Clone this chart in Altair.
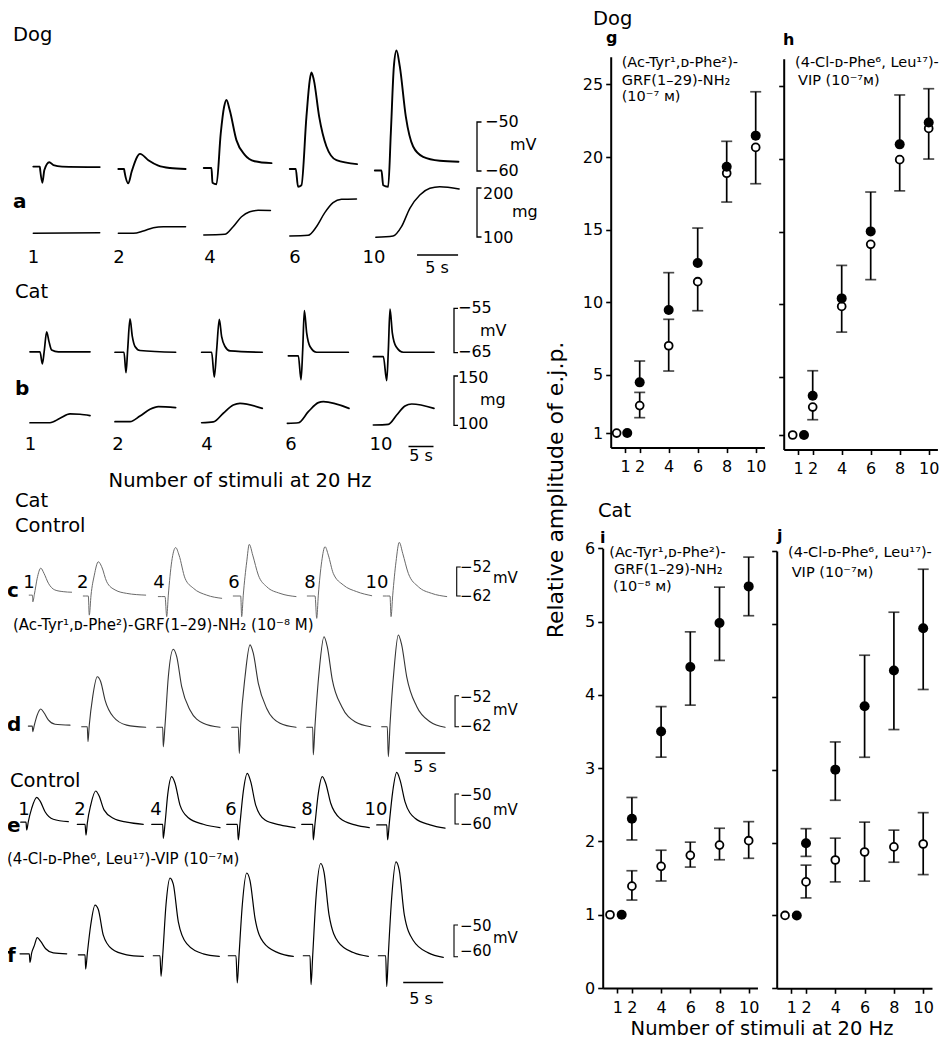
import altair as alt
import pandas as pd

FONT = "DejaVu Sans"
W, H, M = 933, 1034, 8

# ---------------- data: panels g-j (relative amplitude of e.j.p.) ----------------
STIM_TICKS = [1, 2, 4, 6, 8, 10]

G_OPEN_X = [0.41, 2, 4, 6, 8, 10]
G_OPEN = [1, 2.89, 7.01, 11.42, 18.88, 20.66]
G_OPEN_LO = [1, 2.06, 5.27, 9.42, 16.9, 18.16]
G_OPEN_HI = [1, 3.8, 8.83, 11.42, 18.88, 20.66]
G_FILL_X = [1.14, 2, 4, 6, 8, 10]
G_FILL = [1, 4.49, 9.47, 12.7, 19.33, 21.47]
G_FILL_LO = [1, 4.49, 9.47, 12.7, 19.33, 21.47]
G_FILL_HI = [1, 5.96, 12.04, 15.11, 21.08, 24.49]

H_OPEN_X = [0.62, 2, 4, 6, 8, 10]
H_OPEN = [1, 2.92, 9.85, 14.12, 19.95, 22.1]
H_OPEN_LO = [1, 2.05, 8.08, 11.69, 17.8, 19.99]
H_OPEN_HI = [1, 2.92, 9.85, 14.12, 19.95, 22.1]
H_FILL_X = [1.4, 2, 4, 6, 8, 10]
H_FILL = [1, 3.70, 10.4, 15.01, 21.0, 22.5]
H_FILL_LO = [1, 3.70, 10.4, 15.01, 21.0, 22.5]
H_FILL_HI = [1, 5.42, 12.67, 17.72, 24.4, 24.83]

I_OPEN_X = [0.5, 2, 4, 6, 8, 10]
I_OPEN = [1, 1.39, 1.66, 1.81, 1.95, 2.01]
I_OPEN_LO = [1, 1.20, 1.46, 1.65, 1.75, 1.77]
I_OPEN_HI = [1, 1.60, 1.88, 1.99, 2.18, 2.27]
I_FILL_X = [1.3, 2, 4, 6, 8, 10]
I_FILL = [1, 2.31, 3.50, 4.38, 4.98, 5.48]
I_FILL_LO = [1, 2.02, 3.15, 3.86, 4.47, 5.08]
I_FILL_HI = [1, 2.60, 3.84, 4.86, 5.47, 5.88]

J_OPEN_X = [0.57, 2, 4, 6, 8, 10]
J_OPEN = [1, 1.46, 1.76, 1.87, 1.94, 1.98]
J_OPEN_LO = [1, 1.24, 1.46, 1.47, 1.73, 1.56]
J_OPEN_HI = [1, 1.69, 2.06, 2.28, 2.17, 2.41]
J_FILL_X = [1.37, 2, 4, 6, 8, 10]
J_FILL = [1, 1.99, 3.0, 3.87, 4.36, 4.94]
J_FILL_LO = [1, 1.81, 2.58, 3.17, 3.55, 4.10]
J_FILL_HI = [1, 2.19, 3.38, 4.57, 5.16, 5.75]

# ---------------- data: traces (time s, membrane potential mV / tension mg) ----------------
# Dog (a): sweeps for 1, 2, 4, 6, 10 stimuli; onset of each sweep (s)
A_ONSET = [0, 10.37, 20.79, 31.28, 41.65]
A_MV_T = [
    [0, 0.8, 0.85, 1.1, 1.35, 1.95, 2.45, 3.5, 8.1],
    [0, 0.7, 0.75, 1.22, 1.63, 2.65, 3.66, 4.88, 6.3, 8.2],
    [0, 0.94, 1.06, 1.55, 2.07, 2.48, 2.76, 3.17, 3.98, 5.0, 6.2, 8.26],
    [0, 0.73, 1.0, 1.42, 2.03, 2.44, 2.64, 2.93, 3.58, 4.47, 5.69, 8.2],
    [0, 0.81, 1.02, 1.63, 1.95, 2.32, 2.64, 3.05, 3.78, 4.67, 5.89, 7.93, 10.2],
]
A_MV_V = [
    [-59.1, -59.1, -59.9, -62.4, -59.8, -58.2, -58.8, -59.1, -59.2],
    [-59.6, -59.6, -60.1, -62.5, -60.1, -56.5, -57.8, -58.9, -59.4, -59.6],
    [-59.4, -59.4, -62.4, -62.7, -52.3, -46.9, -45.5, -47.6, -53.7, -56.7, -58.0, -58.4],
    [-59.6, -59.6, -63.2, -62.9, -48.9, -41.4, -39.9, -41.4, -48.9, -55.0, -57.8, -58.6],
    [-59.9, -59.9, -62.9, -63.2, -52.3, -38.7, -35.4, -38.7, -48.9, -55.0, -57.1, -57.9, -58.1],
]
A_MG_ONSET = [0, 10.37, 20.79, 31.28, 41.77]
A_MG_T = [
    [0, 8.1],
    [0, 1.83, 3.05, 4.27, 5.49, 8.2],
    [0, 2.56, 3.58, 4.6, 5.61, 6.63, 8.13],
    [0, 2.24, 3.25, 4.27, 5.28, 6.3, 8.13],
    [0, 2.11, 3.13, 4.15, 5.37, 6.59, 7.8, 10.16],
]
A_MG_V = [
    [107.5, 108.5],
    [107.5, 107.5, 112.2, 119, 121, 121],
    [104, 105.4, 121, 141.4, 151.6, 154.4, 154],
    [102, 103.4, 121, 149.6, 170, 176.9, 177.6],
    [99.4, 102, 121, 158.6, 185.7, 199.4, 202.7, 198],
]

# Cat (b)
B_ONSET = [0, 17, 34.33, 51.67, 68.67]
B_MV_T = [
    [0, 2.0, 2.47, 2.87, 3.33, 3.8, 4.33, 5.67, 12.0],
    [0, 1.8, 2.2, 2.53, 3.0, 3.47, 4.0, 5.0, 12.13],
    [0, 2.0, 2.53, 3.0, 3.53, 4.0, 4.67, 5.67, 12.13],
    [0, 2.0, 2.53, 2.87, 3.2, 3.67, 4.33, 5.67, 12.0],
    [0, 2.0, 2.67, 3.0, 3.33, 3.8, 4.53, 6.0, 12.13],
]
B_MV_V = [
    [-64.8, -64.8, -67.5, -64.4, -60.3, -62.5, -64.4, -64.8, -64.8],
    [-64.9, -64.9, -69.5, -64.4, -57.4, -61.4, -63.6, -64.5, -64.9],
    [-64.9, -64.9, -70.5, -64.4, -57.5, -61.4, -63.6, -64.6, -64.9],
    [-65.7, -65.7, -71.1, -64.4, -55.5, -60.6, -63.6, -64.9, -64.9],
    [-65.9, -65.9, -71.3, -64.4, -55.2, -60.6, -63.6, -64.9, -64.9],
]
B_MG_ONSET = [0, 17, 34.33, 51.47, 68.67]
B_MG_T = [
    [0, 4, 6, 8, 10, 12],
    [0, 3, 5, 7, 8.67, 12.13],
    [0, 2.33, 4.33, 6.33, 7.67, 12.13],
    [0, 2.2, 4.2, 6.2, 7.2, 12.33],
    [0, 3, 4.67, 6.33, 7.67, 12.13],
]
B_MG_V = [
    [102.6, 102.6, 107.1, 111.5, 111.2, 109.8],
    [103.7, 103.7, 109.4, 116.2, 118.9, 117.9],
    [102.6, 103.4, 112.2, 120.6, 122.3, 117.2],
    [102, 102.6, 113.8, 123, 124, 117.2],
    [100.3, 101, 110.4, 119.6, 121.6, 117.2],
]

# Cat (c) control, (d) GRF antagonist; sweeps for 1, 2, 4, 6, 8, 10 stimuli
C_T = [
    [0.4, 0.8, 0.85, 1.05, 1.4, 1.85, 2.25, 2.8, 3.6, 4.65, 5.7],
    [7.16, 7.79, 7.91, 8.13, 8.54, 9.04, 9.46, 10.09, 11.13, 12.59, 14.96],
    [16.54, 17.38, 17.59, 17.79, 18.21, 18.71, 19.13, 19.88, 20.91, 22.59, 24.46],
    [25.91, 26.84, 26.96, 27.16, 27.59, 27.91, 28.34, 29.04, 30.09, 31.75, 33.75],
    [35.16, 36.13, 36.34, 36.54, 36.96, 37.38, 37.79, 38.41, 39.66, 41.34, 43.21],
    [44.66, 45.5, 45.63, 45.84, 46.25, 46.66, 47.09, 47.79, 49.04, 50.71, 52.59],
]
C_V = [
    [-61.7, -61.7, -64.0, -61.4, -55.9, -52.4, -54.2, -57.6, -59.9, -60.5, -60.7],
    [-62.0, -62.0, -68.6, -61.7, -54.8, -50.2, -51.9, -57.1, -59.9, -61.1, -61.7],
    [-62.2, -62.2, -69.1, -61.7, -50.2, -45.3, -47.9, -55.9, -59.3, -61.7, -62.8],
    [-62.0, -62.0, -69.1, -61.7, -50.2, -44.2, -47.9, -54.8, -58.8, -61.1, -62.2],
    [-62.0, -62.0, -69.7, -61.7, -50.2, -45.0, -47.9, -54.2, -58.2, -60.5, -61.9],
    [-62.0, -62.0, -69.1, -61.7, -50.2, -43.5, -47.3, -54.2, -58.8, -61.1, -62.2],
]
D_T = [
    [0.29, 0.79, 0.84, 1.04, 1.41, 1.84, 2.25, 2.79, 3.63, 5.5],
    [6.96, 7.66, 7.75, 7.91, 8.34, 8.91, 9.34, 9.88, 10.91, 12.59, 14.96],
    [16.34, 17.09, 17.16, 17.38, 17.79, 18.41, 18.84, 19.46, 20.5, 22.16, 24.25],
    [25.71, 26.54, 26.66, 26.84, 27.38, 28.0, 28.41, 29.04, 30.09, 31.75, 33.75],
    [35.09, 35.84, 35.91, 36.13, 36.66, 37.25, 37.66, 38.29, 39.46, 41.13, 43.09],
    [44.46, 45.16, 45.29, 45.5, 46.0, 46.54, 46.96, 47.59, 48.84, 50.5, 52.38],
]
D_V = [
    [-61.8, -61.8, -63.6, -61.5, -58.2, -56.3, -57.5, -59.8, -61.2, -61.5],
    [-62.0, -62.0, -66.8, -61.5, -52.3, -45.9, -47.5, -53.4, -58.8, -61.5, -62.2],
    [-62.2, -62.2, -68.5, -61.5, -45.9, -37.0, -39.4, -49.1, -56.6, -60.9, -62.2],
    [-62.2, -62.2, -70.6, -61.5, -45.9, -35.6, -38.3, -48.0, -56.1, -60.9, -62.2],
    [-62.2, -62.2, -71.1, -61.5, -43.7, -33.0, -36.2, -46.9, -55.5, -60.4, -62.0],
    [-62.0, -62.0, -71.7, -61.5, -43.7, -32.4, -35.6, -45.9, -55.5, -60.4, -62.2],
]
# Cat (e) control, (f) VIP antagonist
E_T = [
    [0.09, 0.75, 0.84, 1.04, 1.46, 2.09, 2.5, 3.13, 4.16, 6.04],
    [7.16, 8.13, 8.25, 8.41, 8.84, 9.46, 9.88, 10.5, 11.66, 13.34, 15.41],
    [16.46, 17.84, 17.91, 18.13, 18.46, 18.96, 19.38, 20.0, 21.04, 22.91, 25.0],
    [25.84, 27.16, 27.29, 27.5, 27.91, 28.41, 28.84, 29.46, 30.63, 32.5, 34.38],
    [35.21, 36.59, 36.66, 36.88, 37.29, 37.79, 38.21, 38.84, 40.0, 41.88, 43.66],
    [44.59, 45.84, 45.96, 46.16, 46.59, 47.09, 47.5, 48.13, 49.38, 51.25, 53.13],
]
E_V = [
    [-59.4, -59.4, -62.0, -59.2, -54.8, -51.1, -52.3, -55.9, -58.4, -59.2],
    [-60.1, -60.1, -63.7, -59.8, -53.7, -49.0, -50.6, -55.3, -58.1, -59.4, -60.1],
    [-60.1, -60.1, -64.8, -59.8, -50.3, -44.2, -46.4, -53.7, -57.9, -60.1, -61.2],
    [-60.1, -60.1, -65.3, -59.8, -49.2, -43.1, -45.9, -53.7, -58.7, -60.3, -61.2],
    [-60.1, -60.1, -65.3, -59.8, -49.8, -44.2, -46.4, -53.1, -58.1, -60.3, -61.2],
    [-60.3, -60.3, -65.3, -59.8, -49.2, -42.8, -45.3, -52.6, -58.1, -60.3, -61.4],
]
F_T = [
    [0, 1.16, 1.25, 1.46, 1.79, 2.16, 2.59, 3.21, 4.16, 5.84],
    [7.29, 8.13, 8.21, 8.41, 8.84, 9.38, 9.79, 10.41, 11.46, 13.34, 15.41],
    [16.66, 17.5, 17.63, 17.84, 18.25, 18.75, 19.16, 19.79, 20.84, 22.91, 24.91],
    [26.04, 27.0, 27.16, 27.38, 27.79, 28.34, 28.75, 29.38, 30.41, 32.29, 34.16],
    [35.41, 36.25, 36.38, 36.59, 37.0, 37.59, 38.0, 38.63, 39.79, 41.66, 43.54],
    [44.79, 45.71, 45.84, 46.04, 46.46, 47.0, 47.41, 48.04, 49.16, 51.04, 52.91],
]
F_V = [
    [-59.1, -59.1, -61.8, -58.8, -56.5, -54.0, -55.2, -57.5, -58.8, -59.1],
    [-59.4, -59.4, -63.9, -59.1, -50.0, -43.7, -45.1, -53.2, -57.5, -59.4, -59.9],
    [-59.7, -59.7, -66.2, -59.5, -43.6, -35.2, -37.1, -49.0, -55.9, -59.1, -59.9],
    [-59.7, -59.7, -68.3, -59.5, -43.6, -33.6, -36.0, -47.9, -55.4, -58.8, -59.9],
    [-59.7, -59.7, -68.8, -59.5, -41.4, -30.6, -33.3, -46.8, -55.4, -58.7, -59.9],
    [-59.7, -59.7, -69.4, -59.5, -41.4, -30.1, -32.8, -46.8, -54.9, -58.8, -60.2],
]

# calibration bars: (mV/mg low, high) and time bars (s)
A_MV_CAL = (-60, -50)
A_MG_CAL = (100, 200)
B_MV_CAL = (-65, -55)
B_MG_CAL = (100, 150)
C_CAL = (-62, -52)
D_CAL = (-62, -52)
E_CAL = (-60, -50)
F_CAL = (-60, -50)
TIME_BAR = 5

# ---------------- text content ----------------
GRF_1 = "(Ac-Tyr¹,ᴅ-Phe²)-"
GRF_2 = "GRF(1–29)-NH₂"
VIP_1 = "(4-Cl-ᴅ-Phe⁶, Leu¹⁷)-"
VIP_2 = "VIP (10⁻⁷ᴍ)"
XTITLE = "Number of stimuli at 20 Hz"
YTITLE = "Relative amplitude of e.j.p."


# ---------------- helpers (layout) ----------------
def S(d0, d1, p0, p1):
    return alt.Scale(domain=[d0, d1], range=[p0 - M, p1 - M], zero=False, nice=False)


def trace_row(ts, vs, xs, ys, color="black", width=1.5, onsets=None):
    recs = []
    for i, (t, v) in enumerate(zip(ts, vs)):
        off = onsets[i] if onsets else 0.0
        for a, b in zip(t, v):
            recs.append({"k": i, "t": a + off, "v": b})
    return alt.Chart(pd.DataFrame(recs)).mark_line(
        interpolate="monotone", color=color, strokeWidth=width,
        strokeJoin="round", strokeCap="round"
    ).encode(
        x=alt.X("t:Q", scale=xs, axis=None),
        y=alt.Y("v:Q", scale=ys, axis=None),
        detail="k:N",
    )


def bracket(tb, te, cal, xs, ys, width=1.3):
    lo, hi = cal
    df = pd.DataFrame({"t": [te, tb, tb, te], "v": [hi, hi, lo, lo], "o": [0, 1, 2, 3]})
    return alt.Chart(df).mark_line(color="black", strokeWidth=width).encode(
        x=alt.X("t:Q", scale=xs, axis=None),
        y=alt.Y("v:Q", scale=ys, axis=None),
        order=alt.Order("o:Q"),
    )


def timebar(t0, ypix, xs, width=1.5):
    df = pd.DataFrame({"t0": [t0], "t1": [t0 + TIME_BAR]})
    return alt.Chart(df).mark_rule(color="black", strokeWidth=width).encode(
        x=alt.X("t0:Q", scale=xs, axis=None), x2="t1:Q", y=alt.value(ypix - M)
    )


def text_layer(rows, size, weight="normal", align="left", baseline="alphabetic", angle=None):
    df = pd.DataFrame(rows, columns=["s", "x", "y"])
    df["x"] = df["x"] - M
    df["y"] = df["y"] - M
    kw = dict(font=FONT, fontSize=size, fontWeight=weight, align=align,
              baseline=baseline, color="black")
    if angle is not None:
        kw["angle"] = angle
    return alt.Chart(df).mark_text(**kw).encode(
        x=alt.X("x:Q", scale=None, axis=None),
        y=alt.Y("y:Q", scale=None, axis=None),
        text="s:N",
    )


def axis_common():
    return dict(grid=False, domainColor="black", domainWidth=2, tickColor="black",
                tickWidth=1.6, tickSize=5, labelFont=FONT, labelFontSize=16,
                labelColor="black", title=None, labelFlush=False, labelOverlap=False)


def panel(xs, ys, px0, py0, yvals, ylabels, ox, om, olo, ohi, fx, fm, flo, fhi):
    bars, caps = [], []
    for xl, m, lo, hi in ((ox, om, olo, ohi), (fx, fm, flo, fhi)):
        for x, mm, l, h in zip(xl, m, lo, hi):
            if h > l:
                bars.append({"x": x, "lo": l, "hi": h})
            if l < mm:
                caps.append({"x": x, "y": l})
            if h > mm:
                caps.append({"x": x, "y": h})
    xaxis = alt.Axis(orient="bottom", offset=(py0 - M) - H, values=STIM_TICKS,
                     format="d", labelPadding=6, **axis_common())
    yaxis = alt.Axis(orient="left", offset=-(px0 - M), values=yvals, format="d",
                     labels=ylabels, labelPadding=3, **axis_common())
    r = alt.Chart(pd.DataFrame(bars)).mark_rule(color="black", strokeWidth=1.7).encode(
        x=alt.X("x:Q", scale=xs, axis=None),
        y=alt.Y("lo:Q", scale=ys, axis=None), y2="hi:Q")
    c = alt.Chart(pd.DataFrame(caps)).mark_tick(
        orient="horizontal", color="black", size=11, thickness=1.7).encode(
        x=alt.X("x:Q", scale=xs, axis=None), y=alt.Y("y:Q", scale=ys, axis=None))
    po = alt.Chart(pd.DataFrame({"x": ox, "m": om})).mark_point(
        shape="circle", filled=True, fill="white", stroke="black", strokeWidth=1.8,
        size=62, opacity=1).encode(
        x=alt.X("x:Q", scale=xs, axis=xaxis), y=alt.Y("m:Q", scale=ys, axis=yaxis))
    pf = alt.Chart(pd.DataFrame({"x": fx, "m": fm})).mark_circle(
        color="black", size=100, opacity=1).encode(
        x=alt.X("x:Q", scale=xs, axis=None), y=alt.Y("m:Q", scale=ys, axis=None))
    return [r, c, po, pf]


layers = []

# ---------------- left: traces ----------------
AX = S(0, 56, 33.3, 33.3 + 56 * 8.2)
A_MV_Y = S(-65, -30, 171 + 5 * 4.9, 171 - 30 * 4.9)
A_MG_Y = S(90, 210, 237 + 10 * 0.49, 237 - 110 * 0.49)
BX = S(0, 90, 30, 480)
B_MV_Y = S(-75, -50, 352.7 + 10 * 4.44, 352.7 - 15 * 4.44)
B_MG_Y = S(95, 130, 425.3 + 5 * 0.986, 425.3 - 30 * 0.986)
CX = S(0, 56, 26, 26 + 56 * 8)
C_Y = S(-75, -40, 596 + 13 * 2.9, 596 - 22 * 2.9)
D_Y = S(-75, -30, 726.7 + 13 * 3.1, 726.7 - 32 * 3.1)
EX = S(0, 56, 20, 20 + 56 * 8)
E_Y = S(-70, -40, 824 + 10 * 3.0, 824 - 20 * 3.0)
F_Y = S(-72, -28, 956.7 + 12 * 3.17, 956.7 - 32 * 3.17)

layers += [
    trace_row(A_MV_T, A_MV_V, AX, A_MV_Y, width=1.9, onsets=A_ONSET),
    trace_row(A_MG_T, A_MG_V, AX, A_MG_Y, width=1.5, onsets=A_MG_ONSET),
    bracket(54.11, 54.66, A_MV_CAL, AX, A_MV_Y),
    bracket(54.11, 54.66, A_MG_CAL, AX, A_MG_Y),
    timebar(46.8, 255, AX),
    trace_row(B_MV_T, B_MV_V, BX, B_MV_Y, width=1.7, onsets=B_ONSET),
    trace_row(B_MG_T, B_MG_V, BX, B_MG_Y, width=1.7, onsets=B_MG_ONSET),
    bracket(84.8, 85.6, B_MV_CAL, BX, B_MV_Y),
    bracket(84.8, 85.6, B_MG_CAL, BX, B_MG_Y),
    timebar(75.7, 446.5, BX),
    trace_row(C_T, C_V, CX, C_Y, color="#6a6a6a", width=1.0),
    bracket(53.84, 54.34, C_CAL, CX, C_Y, width=1.1),
    trace_row(D_T, D_V, CX, D_Y, color="#333333", width=1.1),
    bracket(53.63, 54.13, D_CAL, CX, D_Y, width=1.1),
    timebar(47.4, 753, CX, width=1.3),
    trace_row(E_T, E_V, EX, E_Y, width=1.2),
    bracket(54.38, 54.88, E_CAL, EX, E_Y, width=1.1),
    trace_row(F_T, F_V, EX, F_Y, width=1.2),
    bracket(54.25, 54.75, F_CAL, EX, F_Y, width=1.1),
    timebar(47.9, 982.5, EX, width=1.3),
]

# ---------------- right: summary panels ----------------
G_X = S(0, 10.6, 610.7, 610.7 + 10.6 * 14.5)
G_Y = S(0, 26.9, 447.6, 447.6 - 26.9 * 14.53)
H_X = S(0, 10.6, 783.7, 783.7 + 10.6 * 14.5)
H_Y = S(0, 26.9, 449.5, 449.5 - 26.9 * 14.53)
I_X = S(0, 10.6, 602.7, 602.7 + 10.6 * 14.6)
I_Y = S(0, 6, 988, 548.3)
J_X = S(0, 10.6, 776.7, 776.7 + 10.6 * 14.65)
J_Y = S(0, 6, 988.3, 551)

DOG_TICKS = [1, 5, 10, 15, 20, 25]
CAT_TICKS = [0, 1, 2, 3, 4, 5, 6]
layers += panel(G_X, G_Y, 610.7, 447.6, DOG_TICKS, True, G_OPEN_X, G_OPEN, G_OPEN_LO, G_OPEN_HI,
                G_FILL_X, G_FILL, G_FILL_LO, G_FILL_HI)
layers += panel(H_X, H_Y, 783.7, 449.5, DOG_TICKS, False, H_OPEN_X, H_OPEN, H_OPEN_LO, H_OPEN_HI,
                H_FILL_X, H_FILL, H_FILL_LO, H_FILL_HI)
layers += panel(I_X, I_Y, 602.7, 988, CAT_TICKS, True, I_OPEN_X, I_OPEN, I_OPEN_LO, I_OPEN_HI,
                I_FILL_X, I_FILL, I_FILL_LO, I_FILL_HI)
layers += panel(J_X, J_Y, 776.7, 988.3, CAT_TICKS, False, J_OPEN_X, J_OPEN, J_OPEN_LO, J_OPEN_HI,
                J_FILL_X, J_FILL, J_FILL_LO, J_FILL_HI)

# ---------------- texts ----------------
layers.append(text_layer([
    ("Dog", 13, 41), ("Cat", 15, 298), ("Cat", 15, 507), ("Control", 15, 532),
    ("Control", 10, 787), ("Dog", 593, 25), ("Cat", 598, 517),
], 19.5))
layers.append(text_layer([(XTITLE, 240, 487), (XTITLE, 762, 1035)], 19.5, align="center"))
layers.append(text_layer([
    ("a", 13, 208), ("b", 15, 395), ("c", 7, 597), ("d", 7, 731), ("e", 7, 832), ("f", 7, 962),
], 20, weight="bold"))
layers.append(text_layer([
    ("g", 606, 43), ("h", 783, 45), ("i", 600, 543), ("j", 777, 541),
], 16, weight="bold"))
layers.append(text_layer([
    ("1", 33.5, 263), ("2", 119, 263), ("4", 210, 263), ("6", 295, 263), ("10", 374, 263),
    ("1", 30.5, 450), ("2", 118, 450), ("4", 207, 450), ("6", 291, 450), ("10", 381, 450),
    ("1", 29, 588), ("2", 82.7, 588), ("4", 159, 588), ("6", 234, 588), ("8", 310, 588), ("10", 377, 588),
    ("1", 24, 815), ("2", 80, 815), ("4", 156, 815), ("6", 231, 815), ("8", 307, 815), ("10", 376, 815),
], 18, align="center"))
layers.append(text_layer([
    ("5 s", 437, 273), ("5 s", 421, 461), ("5 s", 425, 772), ("5 s", 421, 1004),
], 16, align="center"))
layers.append(text_layer([
    ("−50", 485, 122), ("mV", 510, 145), ("−60", 485, 171),
    ("200", 483, 194), ("mg", 512, 212), ("100", 483, 238),
    ("−55", 458, 308), ("mV", 480, 331), ("−65", 458, 352),
    ("150", 458, 378), ("mg", 480, 400), ("100", 458, 424),
], 16, baseline="middle"))
layers.append(text_layer([
    ("−52", 460, 567), ("mV", 493, 578), ("−62", 460, 596),
    ("−52", 460, 697), ("mV", 493, 710), ("−62", 460, 726),
    ("−50", 460, 795), ("mV", 493, 810), ("−60", 460, 824),
    ("−50", 460, 926), ("mV", 493, 938), ("−60", 460, 951),
], 15, baseline="middle"))
layers.append(text_layer([
    (GRF_1, 621.7, 67), (GRF_2, 621.7, 85), ("(10⁻⁷ ᴍ)", 621.7, 101),
    (VIP_1, 795, 67), (VIP_2, 798, 85),
    (GRF_1, 609.3, 557), (GRF_2, 614, 574), ("(10⁻⁸ ᴍ)", 613, 591),
    (VIP_1, 788, 557), (VIP_2, 791.7, 577),
], 14.5))
layers.append(text_layer([
    (GRF_1 + GRF_2 + " (10⁻⁸ M)", 13, 630),
    (VIP_1 + VIP_2, 7, 864),
], 15))
layers.append(text_layer([(YTITLE, 556, 490)], 22, align="center", baseline="middle", angle=270))

chart = alt.layer(*layers).resolve_scale(
    x="independent", y="independent"
).resolve_axis(
    x="independent", y="independent"
).properties(
    width=W, height=H, autosize=alt.AutoSizeParams(type="none"), padding=0,
    background="white",
).configure_view(strokeWidth=0)

chart.save("out.html", embed_options={"renderer": "svg", "actions": False})
